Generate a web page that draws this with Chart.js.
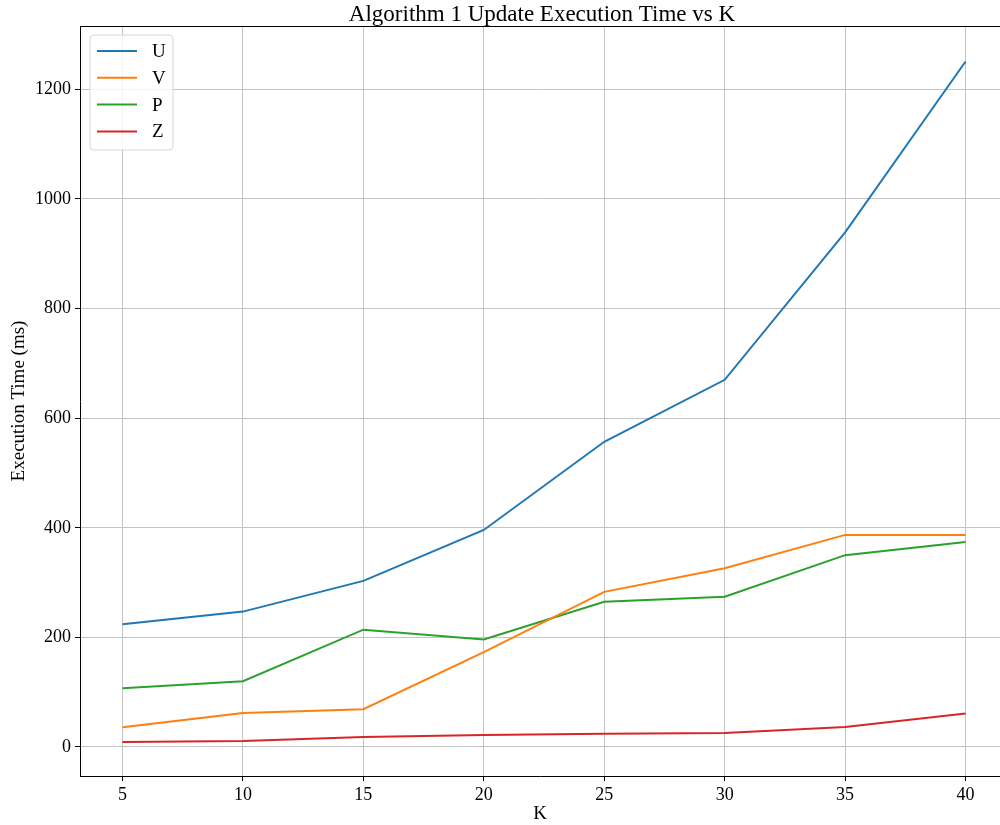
<!DOCTYPE html>
<html lang="en">
<head>
  <meta charset="UTF-8" />
  <title>Algorithm 1 Update Execution Time vs K</title>
  <style>
    html, body { margin: 0; padding: 0; background: white; }
    #wrap { width: 1000px; height: 825px; }
  </style>
</head>
<body>
  <div id="wrap"><canvas id="chart"></canvas></div>

  <script src="https://cdn.jsdelivr.net/npm/chart.js"></script>
  <script>
    const kValues = [5, 10, 15, 20, 25, 30, 35, 40];
    const uTimes = [224, 247, 303, 396, 557, 670, 939, 1251];
    const vTimes = [36, 62, 69, 173, 283, 326, 387, 387];
    const pTimes = [107, 120, 214, 196, 265, 274, 350, 374];
    const zTimes = [9, 11, 18, 22, 24, 25.5, 36.5, 61];
    const xTicks = [5, 10, 15, 20, 25, 30, 35, 40];
    const yTicks = [0, 200, 400, 600, 800, 1000, 1200];

    const font = "'Liberation Serif', 'Times New Roman', serif";

    const toPoints = arr => arr.map((v, i) => ({ x: kValues[i], y: v }));

    // title, top spine and the boxed legend, matplotlib style
    const extras = {
      id: 'extras',
      afterDraw(chart) {
        const ctx = chart.ctx;
        const area = chart.chartArea;
        ctx.save();
        ctx.strokeStyle = '#000';
        ctx.lineWidth = 1;
        ctx.beginPath();
        ctx.moveTo(area.left, area.top + 0.5);
        ctx.lineTo(area.right, area.top + 0.5);
        ctx.stroke();

        ctx.fillStyle = '#000';
        ctx.font = '23px ' + font;
        ctx.textAlign = 'center';
        ctx.textBaseline = 'alphabetic';
        ctx.fillText('Algorithm 1 Update Execution Time vs K', 542, 21);

        // legend box
        const bx = 90, by = 35, bw = 83, bh = 115, r = 4;
        ctx.beginPath();
        ctx.moveTo(bx + r, by);
        ctx.arcTo(bx + bw, by, bx + bw, by + bh, r);
        ctx.arcTo(bx + bw, by + bh, bx, by + bh, r);
        ctx.arcTo(bx, by + bh, bx, by, r);
        ctx.arcTo(bx, by, bx + bw, by, r);
        ctx.closePath();
        ctx.fillStyle = 'rgba(255,255,255,0.8)';
        ctx.fill();
        ctx.strokeStyle = '#d6d6d6';
        ctx.stroke();

        ctx.font = '19px ' + font;
        ctx.textAlign = 'left';
        ctx.textBaseline = 'middle';
        chart.data.datasets.forEach((ds, i) => {
          const y = 51 + i * 26.8;
          ctx.strokeStyle = ds.borderColor;
          ctx.lineWidth = 2;
          ctx.beginPath();
          ctx.moveTo(97, y);
          ctx.lineTo(137, y);
          ctx.stroke();
          ctx.fillStyle = '#000';
          ctx.fillText(ds.label, 152, y + 1);
        });
        ctx.restore();
      }
    };

    new Chart(document.getElementById('chart'), {
      type: 'line',
      data: {
        datasets: [
          { label: 'U', data: toPoints(uTimes), borderColor: '#1f77b4' },
          { label: 'V', data: toPoints(vTimes), borderColor: '#ff7f0e' },
          { label: 'P', data: toPoints(pTimes), borderColor: '#2ca02c' },
          { label: 'Z', data: toPoints(zTimes), borderColor: '#d62728' }
        ].map(d => Object.assign(d, { borderWidth: 2, pointRadius: 0, fill: false, tension: 0 }))
      },
      options: {
        responsive: true,
        maintainAspectRatio: false,
        animation: false,
        layout: { padding: { top: 26, right: 0, left: 0, bottom: 0 } },
        plugins: { legend: { display: false }, title: { display: false }, tooltip: { enabled: false } },
        scales: {
          x: {
            type: 'linear',
            min: 3.236,
            max: 41.43,
            afterBuildTicks: s => { s.ticks = xTicks.map(v => ({ value: v })); },
            afterFit: s => { s.height = 49; },
            grid: { color: '#c4c4c4', lineWidth: 1, tickColor: '#000', tickLength: 5 },
            border: { color: '#000', width: 1 },
            ticks: { color: '#000', font: { family: font, size: 18 }, padding: 3, maxRotation: 0,
                     callback: v => String(v) },
            title: { display: true, text: 'K', color: '#000', font: { family: font, size: 19 }, padding: 0 }
          },
          y: {
            type: 'linear',
            min: -53,
            max: 1315.7,
            afterBuildTicks: s => { s.ticks = yTicks.map(v => ({ value: v })); },
            afterFit: s => { s.width = 80; },
            grid: { color: '#c4c4c4', lineWidth: 1, tickColor: '#000', tickLength: 5 },
            border: { color: '#000', width: 1 },
            ticks: { color: '#000', font: { family: font, size: 18 }, padding: 4,
                     callback: v => String(v) },
            title: { display: true, text: 'Execution Time (ms)', color: '#000', font: { family: font, size: 19 }, padding: { top: 8, bottom: 0 } }
          }
        }
      },
      plugins: [extras]
    });
  </script>
</body>
</html>
